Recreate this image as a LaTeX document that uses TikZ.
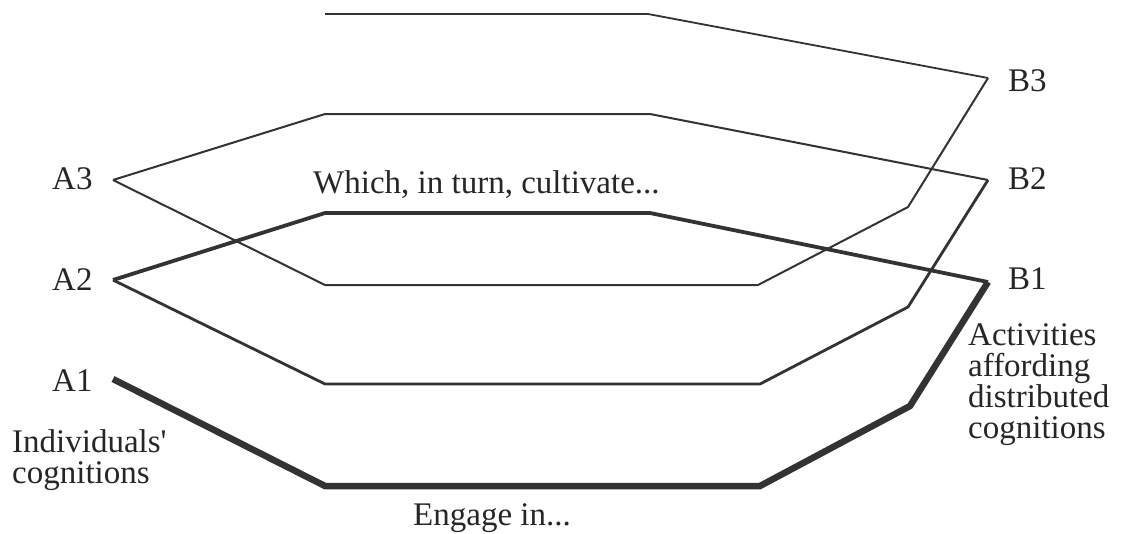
\documentclass[tikz,border=0pt]{standalone}
\usepackage{fontspec}
\setmainfont{Liberation Serif}[Ligatures=TeXOff]
\begin{document}
\begin{tikzpicture}[x=1pt,y=-1pt,
  edge/.style={draw=black!80, line join=miter, line cap=butt},
  lbl/.style={inner sep=0pt, anchor=base west, font=\fontsize{33}{31.5}\selectfont, text=black!85},
  mlbl/.style={inner sep=0pt, anchor=north west, align=left, font=\fontsize{33}{31}\selectfont, text=black!85}]
\useasboundingbox (0,0) rectangle (1121,533);
% vertices
\coordinate (A1) at (113,379);
\coordinate (A2) at (113,280);
\coordinate (A3) at (113,180);
\coordinate (B1) at (988,282);
\coordinate (B2) at (988,180);
\coordinate (B3) at (988,78);
% layer 1 lower
\draw[edge, line width=6.5pt] (A1) -- (325,486) -- (760,486) -- (910,406) -- (B1);
% layer 1 upper
\draw[edge, line width=3.8pt] (A2) -- (325,213) -- (650,213) -- (B1);
% layer 2 lower
\draw[edge, line width=2.8pt] (A2) -- (325,384) -- (760,384) -- (908,307) -- (B2);
% layer 2 upper
\draw[edge, line width=2pt] (A3) -- (325,114) -- (650,114) -- (B2);
% layer 3 lower
\draw[edge, line width=2pt] (A3) -- (325,285) -- (758,285) -- (908,207) -- (B3);
% layer 3 upper
\coordinate (T) at (325,14);
\draw[edge, line width=1.8pt] (T) -- (648,14) -- (B3);
% labels
\node[lbl] (la3) at (52,189) {A3};
\node[lbl] (la2) at (52,290) {A2};
\node[lbl] (la1) at (52,391) {A1};
\node[lbl] (lb3) at (1008,91) {B3};
\node[lbl] (lb2) at (1008,189) {B2};
\node[lbl] (lb1) at (1008,289) {B1};
\node[mlbl] (ind) at (12,429) {Individuals'\\cognitions};
\node[mlbl] (act) at (968,323) {Activities\\affording\\distributed\\cognitions};
\node[lbl] (which) at (313,193) {Which, in turn, cultivate...};
\node[lbl] (engage) at (413,525) {Engage in...};
\end{tikzpicture}
\end{document}
